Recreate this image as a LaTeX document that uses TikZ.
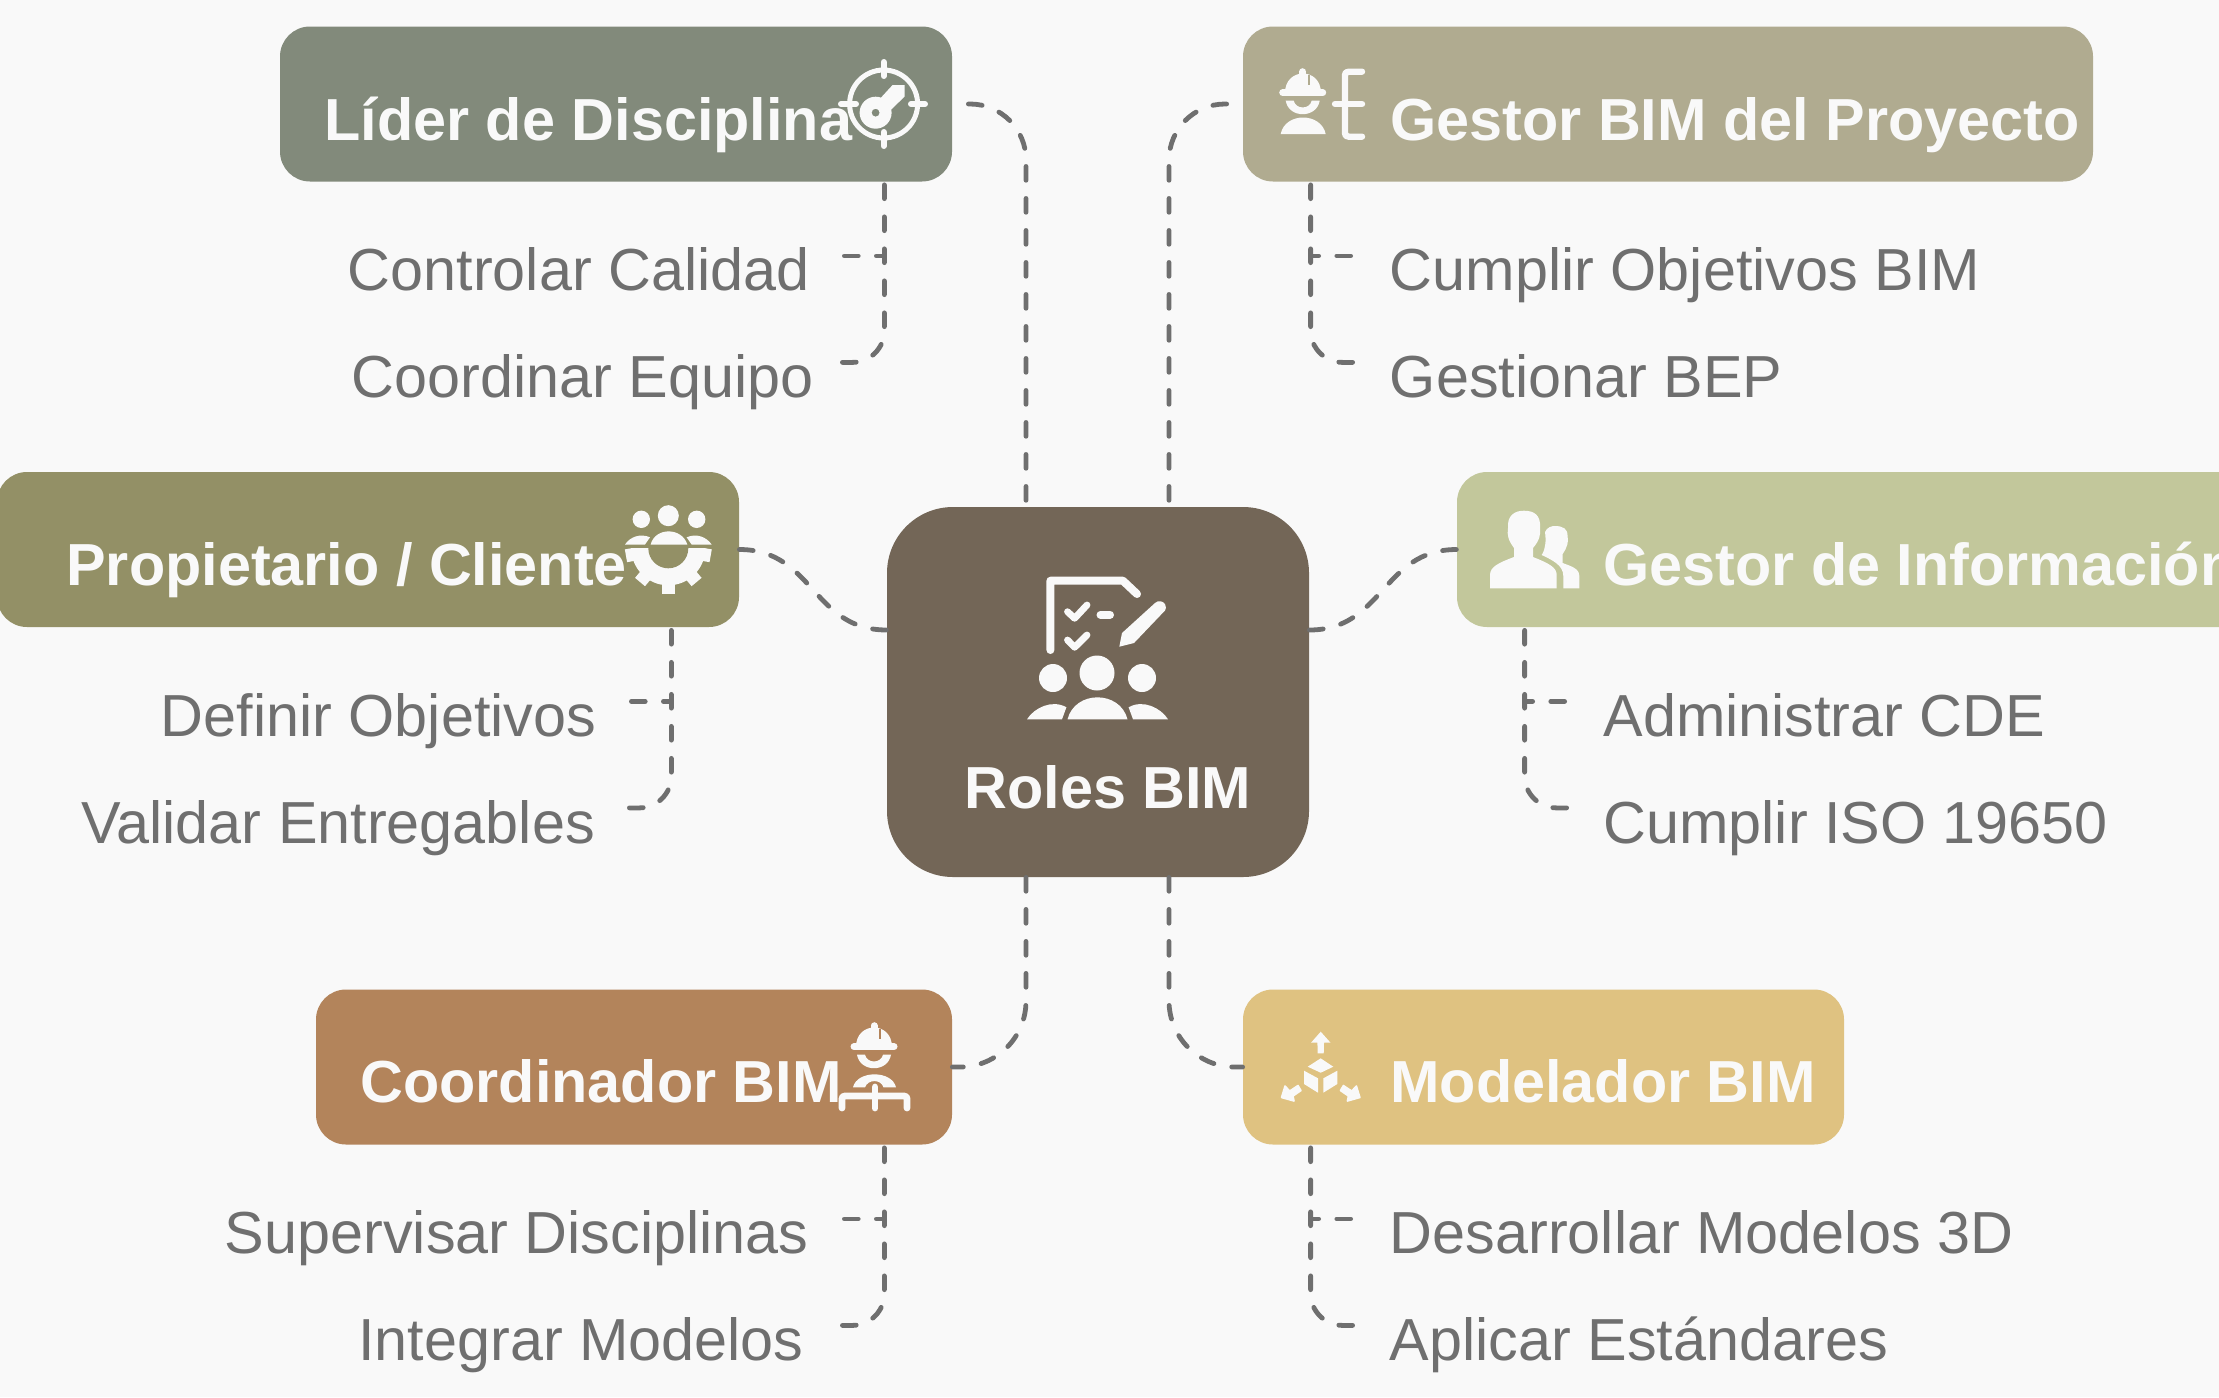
\documentclass[tikz,border=0pt]{standalone}
\usepackage{fontspec}
\setmainfont{Liberation Sans}
\usepackage{xcolor}
\usetikzlibrary{calc}

\definecolor{paper}{HTML}{F9F9F9}
\definecolor{linegray}{HTML}{6F6F6F}
\definecolor{rolescol}{HTML}{736657}
\definecolor{lidercol}{HTML}{828A7B}
\definecolor{proyectocol}{HTML}{B0AB90}
\definecolor{clientecol}{HTML}{939066}
\definecolor{infocol}{HTML}{C2C79B}
\definecolor{coordcol}{HTML}{B3845B}
\definecolor{modelcol}{HTML}{DFC281}

\tikzset{
	box/.style = {draw = none, rounded corners = 15pt, inner sep = 0pt, minimum height = 77.5pt},
	boxtext/.style = {anchor = base west, inner sep = 0pt, text = paper, font = \fontsize{29.67pt}{32pt}\selectfont\bfseries},
	subtext/.style = {anchor = base west, inner sep = 0pt, text = linegray, font = \fontsize{29.67pt}{32pt}\selectfont},
	link/.style = {draw = linegray, line width = 2.4pt, line cap = round, dash pattern = on 6.9pt off 9.1pt},
	iconfill/.style = {fill = paper, draw = none},
	iconline/.style = {draw = paper, line cap = round, line join = round}
}

\newcommand{\helmet}[3]{
	\begin{scope}[shift = {(#1,#2)}]
		\fill [iconfill] (-18,0) .. controls (-18,-26) and (18,-26) .. (18,0) -- cycle;
		\draw [iconline, line width = 3.5pt] (-20,0) -- (20,0);
		\draw [iconline, line width = 3.5pt] (0,-21) -- (0,-8);
		\draw [draw = #3, line width = 0.8pt] (6,-18) -- (6,-8);
		\fill [iconfill] (-17,8) .. controls (-14,26) and (14,26) .. (17,8) -- (9,8) .. controls (7,17) and (-7,17) .. (-9,8) -- cycle;
	\end{scope}
}

\begin{document}
\begin{tikzpicture}[x = 0.5pt, y = -0.5pt]
	\def\tx{34pt};
	\def\ts{20pt};
	\def\tl{21pt};
	\def\ta{37pt};
	\def\tb{90.25pt};

	\useasboundingbox (0,0) rectangle (2219,1397);
	\fill [paper] (0,0) rectangle (2219,1397);

	\begin{scope}
	\node [box, fill = rolescol, rounded corners = 33pt, minimum width = 211pt, minimum height = 185pt] (roles) at (1098,692) {};
	\node [box, fill = lidercol, minimum width = 336pt] (lider) at (616,104) {};
	\node [box, fill = proyectocol, minimum width = 425pt] (proyecto) at (1668,104) {};
	\node [box, fill = clientecol, minimum width = 371pt] (cliente) at (368,549.5) {};
	\node [box, fill = infocol, minimum width = 400pt] (info) at (1857,549.5) {};
	\node [box, fill = coordcol, minimum width = 318pt] (coord) at (634,1067) {};
	\node [box, fill = modelcol, minimum width = 300.5pt] (model) at (1543.5,1067) {};
	\end{scope}

	\begin{scope}
	\node [boxtext] (rolestext) at (964,808) {Roles BIM};
	\node [boxtext] (lidertext) at (324,140) {Líder de Disciplina};
	\node [boxtext] (proyectotext) at (1390,140) {Gestor BIM del Proyecto};
	\node [boxtext] (clientetext) at (66,585.5) {Propietario / Cliente};
	\node [boxtext] (infotext) at (1603,585.5) {Gestor de Información};
	\node [boxtext] (coordtext) at (360,1102.5) {Coordinador BIM};
	\node [boxtext] (modeltext) at (1390,1102.5) {Modelador BIM};
	\end{scope}

	\begin{scope}
	\node [subtext] (calidad) at (347.5,290.5) {Controlar Calidad};
	\node [subtext] (equipo) at (351.5,397.5) {Coordinar Equipo};
	\node [subtext] (objbim) at (1389.5,290.5) {Cumplir Objetivos BIM};
	\node [subtext] (bep) at (1389.5,397.5) {Gestionar BEP};
	\node [subtext] (definir) at (160.5,736) {Definir Objetivos};
	\node [subtext] (validar) at (81,843) {Validar Entregables};
	\node [subtext] (cde) at (1603,736) {Administrar CDE};
	\node [subtext] (iso) at (1603,843) {Cumplir ISO 19650};
	\node [subtext] (supervisar) at (224.5,1253.5) {Supervisar Disciplinas};
	\node [subtext] (integrar) at (358,1360.5) {Integrar Modelos};
	\node [subtext] (desarrollar) at (1389.5,1253.5) {Desarrollar Modelos 3D};
	\node [subtext] (aplicar) at (1389.5,1360.5) {Aplicar Estándares};
	\end{scope}

	\begin{scope}
	\draw [link, rounded corners = 28pt] ([xshift = 8pt]lider.east) -| ([xshift = -36pt]roles.north);
	\draw [link, rounded corners = 28pt] ([xshift = -8pt]proyecto.west) -| ([xshift = 35.5pt]roles.north);
	\draw [link] (cliente.east) .. controls +(74,0) and +(-74,0) .. ([yshift = 31pt]roles.west);
	\draw [link] ([yshift = 31pt]roles.east) .. controls +(74,0) and +(-74,0) .. (info.west);
	\draw [link, rounded corners = 33pt] ([xshift = -36pt]roles.south) |- (coord.east);
	\draw [link, rounded corners = 33pt] ([xshift = 35.5pt]roles.south) |- (model.west);
	\end{scope}

	\begin{scope}
	\coordinate (liderT) at ([xshift = -\tx]lider.south east);
	\coordinate (liderA) at ([shift = {(-\ts,-\ta)}]liderT);
	\coordinate (liderB) at ([shift = {(-\tl,-\tb)}]liderT);
	\draw [link] (liderA) -- (liderA -| liderT);
	\draw [link, rounded corners = 16pt] (liderB) -| (liderT);

	\coordinate (proyectoT) at ([xshift = \tx]proyecto.south west);
	\coordinate (proyectoA) at ([shift = {(\ts,-\ta)}]proyectoT);
	\coordinate (proyectoB) at ([shift = {(\tl,-\tb)}]proyectoT);
	\draw [link] (proyectoA) -- (proyectoA -| proyectoT);
	\draw [link, rounded corners = 16pt] (proyectoB) -| (proyectoT);

	\coordinate (clienteT) at ([xshift = -\tx]cliente.south east);
	\coordinate (clienteA) at ([shift = {(-\ts,-\ta)}]clienteT);
	\coordinate (clienteB) at ([shift = {(-\tl,-\tb)}]clienteT);
	\draw [link] (clienteA) -- (clienteA -| clienteT);
	\draw [link, rounded corners = 16pt] (clienteB) -| (clienteT);

	\coordinate (infoT) at ([xshift = \tx]info.south west);
	\coordinate (infoA) at ([shift = {(\ts,-\ta)}]infoT);
	\coordinate (infoB) at ([shift = {(\tl,-\tb)}]infoT);
	\draw [link] (infoA) -- (infoA -| infoT);
	\draw [link, rounded corners = 16pt] (infoB) -| (infoT);

	\coordinate (coordT) at ([xshift = -\tx]coord.south east);
	\coordinate (coordA) at ([shift = {(-\ts,-\ta)}]coordT);
	\coordinate (coordB) at ([shift = {(-\tl,-\tb)}]coordT);
	\draw [link] (coordA) -- (coordA -| coordT);
	\draw [link, rounded corners = 16pt] (coordB) -| (coordT);

	\coordinate (modelT) at ([xshift = \tx]model.south west);
	\coordinate (modelA) at ([shift = {(\ts,-\ta)}]modelT);
	\coordinate (modelB) at ([shift = {(\tl,-\tb)}]modelT);
	\draw [link] (modelA) -- (modelA -| modelT);
	\draw [link, rounded corners = 16pt] (modelB) -| (modelT);
	\end{scope}

	\begin{scope}
	\draw [iconline, line width = 4pt] (1050.4,650) -- (1050.4,580.7) -- (1122.9,580.7) -- (1137,594);
	\draw [iconline, line width = 3.4pt] (1067.5,611.7) -- (1074.6,618.3) -- (1087,605);
	\draw [iconline, line width = 3.4pt] (1067.5,640) -- (1074.6,647.3) -- (1087,635);
	\draw [iconline, line width = 4pt] (1100.5,614.7) -- (1110,614.7);
	\fill [iconfill] (1155,603) .. controls (1158,600) and (1163,601) .. (1165,604) .. controls (1166.5,607) and (1166,609) .. (1165,610.5) -- (1134,643) -- (1119.3,646.7) -- (1122,633) -- cycle;
	\fill [iconfill] (1097,673) circle [radius = 17.5];
	\fill [iconfill] (1053,678) circle [radius = 14];
	\fill [iconfill] (1142,678) circle [radius = 14];
	\fill [iconfill] (1067.5,719.3) .. controls (1075,690) and (1120,690) .. (1127.5,719.3) -- cycle;
	\fill [iconfill] (1027,719.3) .. controls (1034,708) and (1052,699) .. (1066.4,707.3) -- (1062,719.3) -- cycle;
	\fill [iconfill] (1168,719.3) .. controls (1161,708) and (1143,699) .. (1128.6,707.3) -- (1133,719.3) -- cycle;
	\end{scope}

	\begin{scope}
	\draw [iconline, line width = 2.5pt] (883.6,104) circle [radius = 34];
	\draw [iconline, line width = 3pt] (883.6,62) -- (883.6,76);
	\draw [iconline, line width = 3pt] (883.6,132) -- (883.6,146);
	\draw [iconline, line width = 3pt] (841,104) -- (856,104);
	\draw [iconline, line width = 3pt] (911,104) -- (925,104);
	\fill [iconfill] (892.6,85) -- (904.5,85) -- (904.5,96.7) -- (890.7,110) -- (878.8,100) -- cycle;
	\fill [iconfill, even odd rule] (875.6,112.7) circle [radius = 16] (875.6,112.7) circle [radius = 4];
	\end{scope}

	\begin{scope}
	\helmet{1302.7}{92.7}{proyectocol}
	\fill [iconfill] (1280.7,134) .. controls (1285,112) and (1321,112) .. (1325.7,134) -- cycle;
	\draw [iconline, line width = 3.2pt] (1362,71.7) -- (1349,71.7) .. controls (1346,71.7) and (1345,73) .. (1345,75) -- (1345,133) .. controls (1345,135.5) and (1346,136.7) .. (1349,136.7) -- (1362,136.7);
	\draw [iconline, line width = 3.2pt] (1335,104) -- (1362,104);
	\end{scope}

	\begin{scope}
	\fill [iconfill] (668.3,515.7) circle [radius = 10.5];
	\fill [iconfill] (641.3,519.3) circle [radius = 8.7];
	\fill [iconfill] (696.7,519.3) circle [radius = 8.7];
	\fill [iconfill] (650.7,544.5) .. controls (655,527) and (682,527) .. (687.3,544.5) -- cycle;
	\fill [iconfill] (625,544.5) .. controls (630,537) and (640,533) .. (650,537.3) -- (645,544.5) -- cycle;
	\fill [iconfill] (711.6,544.5) .. controls (706.6,537) and (696.6,533) .. (686.6,537.3) -- (691.6,544.5) -- cycle;
	\begin{scope}
	\clip (620,548.3) rectangle (716,600);
	\fill [iconfill] (668.3,548.3) circle [radius = 37];
	\draw [iconline, line width = 6.5pt, line cap = butt] (668.3,548.3) -- ++(10:43);
	\draw [iconline, line width = 6.5pt, line cap = butt] (668.3,548.3) -- ++(50:44);
	\draw [iconline, line width = 6.5pt, line cap = butt] (668.3,548.3) -- ++(90:46);
	\draw [iconline, line width = 6.5pt, line cap = butt] (668.3,548.3) -- ++(130:44);
	\draw [iconline, line width = 6.5pt, line cap = butt] (668.3,548.3) -- ++(170:43);
	\fill [clientecol] (668.3,548.3) circle [radius = 20];
	\end{scope}
	\end{scope}

	\begin{scope}
	\fill [iconfill] (1490,588.3) -- (1490,575) .. controls (1490,567) and (1498,563) .. (1514,557) -- (1514,548) .. controls (1508,540) and (1507,535) .. (1508,528) .. controls (1507,515) and (1515,510.7) .. (1524,510.7) .. controls (1534,510.7) and (1541,515) .. (1540,528) .. controls (1541,535) and (1539,541) .. (1533,548) -- (1533,557) .. controls (1548,563) and (1556.7,567) .. (1556.7,575) -- (1556.7,588.3) -- cycle;
	\fill [iconfill] (1545,532) .. controls (1547,527) and (1552,526) .. (1555,526) .. controls (1563,526) and (1568,529) .. (1567.5,536) .. controls (1569,541) and (1567,548) .. (1562.7,554) -- (1562.7,563) .. controls (1570,566) and (1579.3,568) .. (1579.3,576) -- (1579.3,588.3) -- (1563.3,588.3) -- (1563.3,576) .. controls (1563.3,565) and (1552,560) .. (1541.7,555) .. controls (1546,548) and (1546,540) .. (1545,532) -- cycle;
	\end{scope}

	\begin{scope}
	\helmet{874}{1046.7}{coordcol}
	\fill [iconfill] (853,1087.3) .. controls (857,1070) and (892,1070) .. (896,1087.3) -- (883.5,1087.3) .. controls (881,1079) and (868,1079) .. (865,1087.3) -- cycle;
	\draw [iconline, line width = 3.4pt] (842,1108) -- (842,1099) .. controls (842,1097) and (843,1096) .. (845,1096) -- (904,1096) .. controls (906,1096) and (907,1097) .. (907,1099) -- (907,1108);
	\draw [iconline, line width = 3.4pt] (875,1087) -- (875,1108);
	\end{scope}

	\begin{scope}
	\fill [iconfill] (1320.7,1031.7) -- (1330.5,1042.7) -- (1324,1042.7) -- (1323.7,1053.3) -- (1317.7,1053.3) -- (1317.4,1042.7) -- (1311,1042.7) -- cycle;
	\fill [iconfill] (1320.7,1058.3) -- (1333.3,1066.7) -- (1320.7,1072.7) -- (1307.7,1066.7) -- cycle;
	\fill [iconfill] (1304,1070.7) -- (1318,1078.3) -- (1318,1092.7) -- (1304,1084) -- cycle;
	\fill [iconfill] (1337.3,1070.7) -- (1323.3,1078.3) -- (1323.3,1092.7) -- (1337.3,1084) -- cycle;
	\filldraw [iconline, fill = paper, line width = 0.8pt] (1281.5,1097.5) -- (1285,1086) -- (1289.7,1091) -- (1298,1085.5) -- (1301,1090.5) -- (1293,1096) -- (1294,1101) -- cycle;
	\filldraw [iconline, fill = paper, line width = 0.8pt] (1359.9,1097.5) -- (1356.4,1086) -- (1351.7,1091) -- (1343.4,1085.5) -- (1340.4,1090.5) -- (1348.4,1096) -- (1347.4,1101) -- cycle;
	\end{scope}
\end{tikzpicture}
\end{document}
